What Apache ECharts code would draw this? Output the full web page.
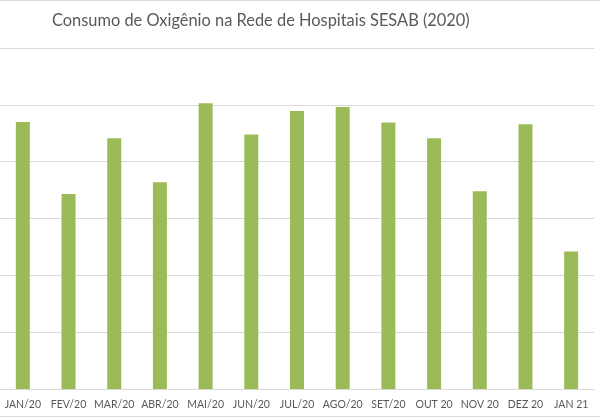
<!DOCTYPE html>
<html>
<head>
<meta charset="utf-8">
<script src="https://cdn.jsdelivr.net/npm/echarts@6/dist/echarts.min.js"></script>
<style>
html,body{margin:0;padding:0;background:#fff;}
#chart{width:600px;height:420px;}
</style>
</head>
<body>
<div id="chart"></div>
<script>
const titleText = "Consumo de Oxigênio na Rede de Hospitais SESAB (2020)";
const categories = ["JAN/20","FEV/20","MAR/20","ABR/20","MAI/20","JUN/20","JUL/20","AGO/20","SET/20","OUT 20","NOV 20","DEZ 20","JAN 21"];
const consumo = [4.70, 3.43, 4.41, 3.64, 5.03, 4.48, 4.89, 4.96, 4.69, 4.41, 3.48, 4.66, 2.42];
const yMin = 0, yMax = 6, yStep = 1;

const chart = echarts.init(document.getElementById('chart'));
chart.setOption({
  animation: false,
  backgroundColor: '#ffffff',
  title: {
    text: titleText,
    left: 47,
    top: 8,
    textStyle: {fontFamily: 'Lato', fontSize: 16.4, fontWeight: 'normal', color: '#595959'}
  },
  graphic: [{
    type: 'rect',
    shape: {x: -1, y: 0.5, width: 602, height: 416},
    style: {fill: 'none', stroke: '#d9d9d9', lineWidth: 1},
    silent: true
  }],
  grid: {left: 0, width: 594, top: 48, height: 341, containLabel: false},
  xAxis: {
    type: 'category',
    data: categories,
    axisLine: {show: true, lineStyle: {color: '#d9d9d9'}},
    axisTick: {show: false},
    axisLabel: {interval: 0, color: '#595959', fontFamily: 'Lato', fontSize: 10.5, margin: 10}
  },
  yAxis: {
    type: 'value',
    min: yMin, max: yMax, interval: yStep,
    axisLabel: {show: false},
    axisLine: {show: false},
    axisTick: {show: false},
    splitLine: {lineStyle: {color: '#d9d9d9', width: 1}}
  },
  series: [{
    type: 'bar',
    data: consumo,
    barWidth: 14,
    itemStyle: {color: '#9bbb59'}
  }]
});
</script>
</body>
</html>
